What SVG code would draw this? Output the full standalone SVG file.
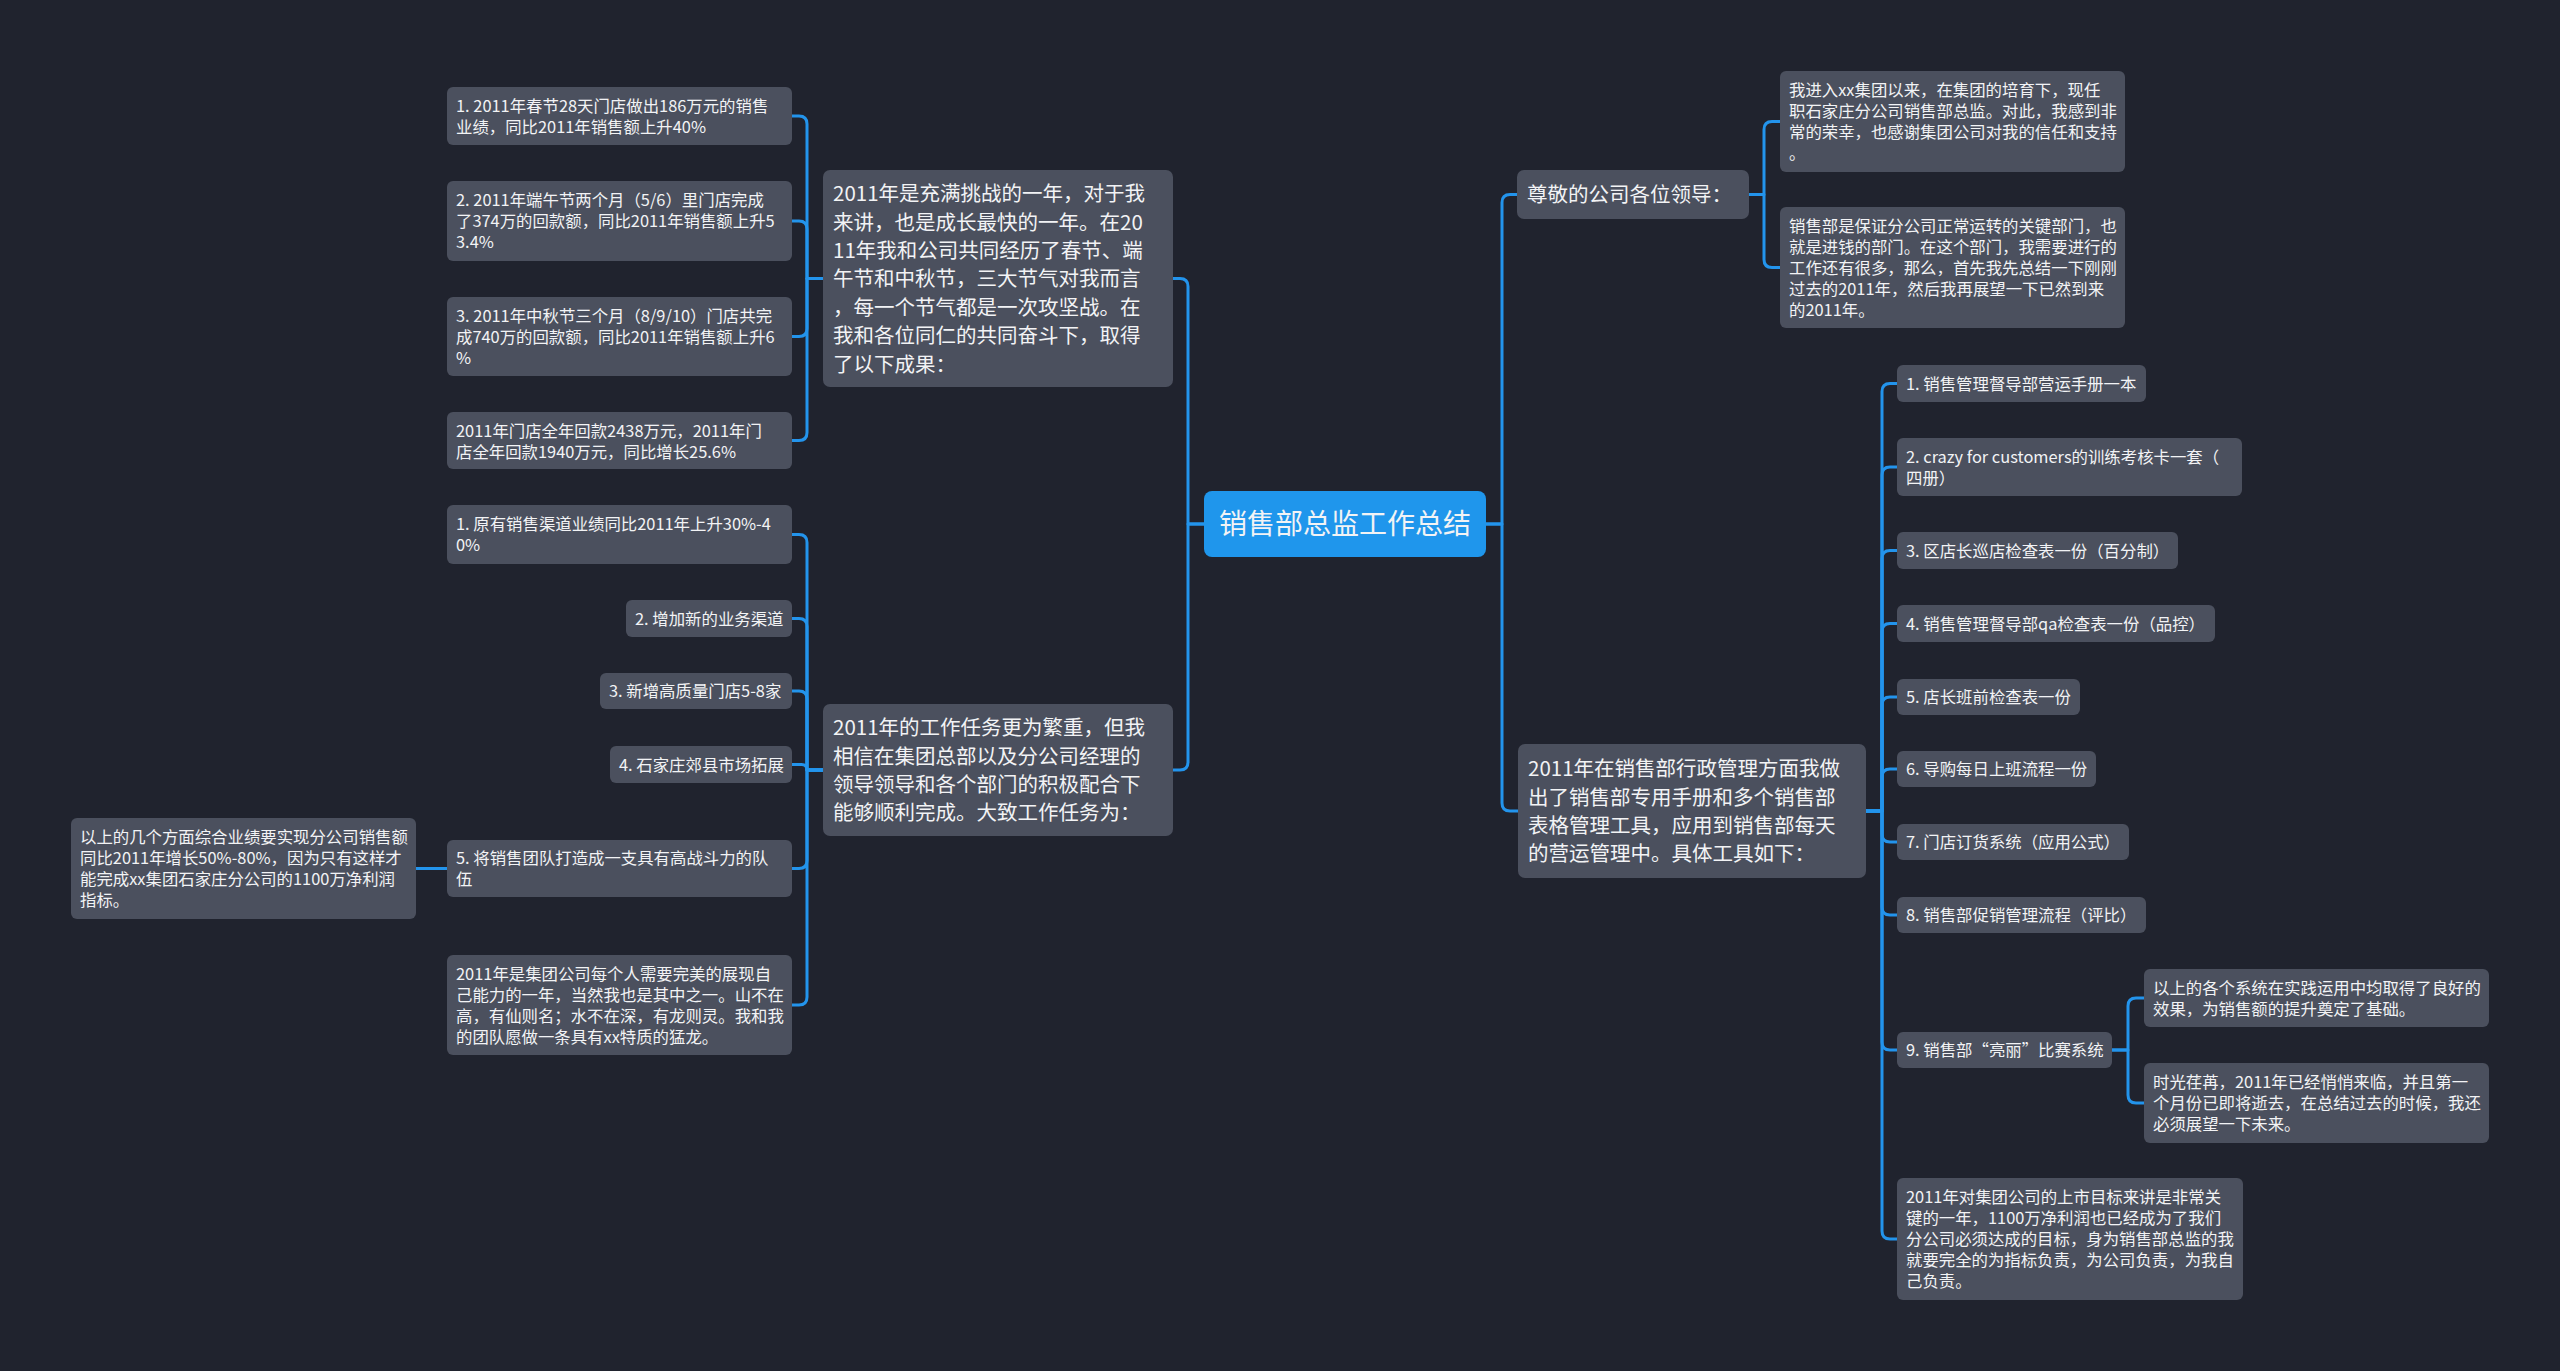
<svg xmlns="http://www.w3.org/2000/svg" width="2560" height="1371" viewBox="0 0 2560 1371">
<style>
.bg{fill:#20232e}
.n{fill:#4b505e}
.root{fill:#1f96ec}
.t{font-family:"Noto Sans CJK SC","Microsoft YaHei","Liberation Sans",sans-serif;fill:#f2f3f5}
.s{font-size:16.4px}
.m{font-size:20.5px}
.r{font-size:28px}
.c{fill:none;stroke:#2394ec;stroke-width:3;stroke-linecap:round;stroke-linejoin:round}
</style>
<rect class="bg" x="0" y="0" width="2560" height="1371"/>
<g id="connectors">
<path class="c" d="M1204,524 H1188 V286.5 Q1188,278.5 1180,278.5 H1173"/>
<path class="c" d="M1204,524 H1188 V762 Q1188,770 1180,770 H1173"/>
<path class="c" d="M1486,524 H1502 V202.5 Q1502,194.5 1510,194.5 H1517"/>
<path class="c" d="M1486,524 H1502 V803 Q1502,811 1510,811 H1518"/>
<path class="c" d="M823,278.5 H807 V124 Q807,116 799,116 H792"/>
<path class="c" d="M823,278.5 H807 V229 Q807,221 799,221 H792"/>
<path class="c" d="M823,278.5 H807 V328.5 Q807,336.5 799,336.5 H792"/>
<path class="c" d="M823,278.5 H807 V432.5 Q807,440.5 799,440.5 H792"/>
<path class="c" d="M823,770 H807 V542.5 Q807,534.5 799,534.5 H792"/>
<path class="c" d="M823,770 H807 V626.5 Q807,618.5 799,618.5 H792"/>
<path class="c" d="M823,770 H807 V699 Q807,691 799,691 H792"/>
<path class="c" d="M823,770 H807 Q807,764.5 801.5,764.5 H792"/>
<path class="c" d="M823,770 H807 V860.5 Q807,868.5 799,868.5 H792"/>
<path class="c" d="M823,770 H807 V997 Q807,1005 799,1005 H792"/>
<path class="c" d="M447,868.5 H416"/>
<path class="c" d="M1749,194.5 H1764 V129.5 Q1764,121.5 1772,121.5 H1780"/>
<path class="c" d="M1749,194.5 H1764 V259.5 Q1764,267.5 1772,267.5 H1780"/>
<path class="c" d="M1866,811 H1882 V391.5 Q1882,383.5 1890,383.5 H1897"/>
<path class="c" d="M1866,811 H1882 V475 Q1882,467 1890,467 H1897"/>
<path class="c" d="M1866,811 H1882 V558.5 Q1882,550.5 1890,550.5 H1897"/>
<path class="c" d="M1866,811 H1882 V631.5 Q1882,623.5 1890,623.5 H1897"/>
<path class="c" d="M1866,811 H1882 V705 Q1882,697 1890,697 H1897"/>
<path class="c" d="M1866,811 H1882 V777 Q1882,769 1890,769 H1897"/>
<path class="c" d="M1866,811 H1882 V834 Q1882,842 1890,842 H1897"/>
<path class="c" d="M1866,811 H1882 V907 Q1882,915 1890,915 H1897"/>
<path class="c" d="M1866,811 H1882 V1042 Q1882,1050 1890,1050 H1897"/>
<path class="c" d="M1866,811 H1882 V1231 Q1882,1239 1890,1239 H1897"/>
<path class="c" d="M2112,1050 H2128 V1006 Q2128,998 2136,998 H2144"/>
<path class="c" d="M2112,1050 H2128 V1095 Q2128,1103 2136,1103 H2144"/>
</g>
<g id="root">
<rect class="root" x="1204" y="491" width="282" height="66" rx="8"/>
<text class="t r" x="1345" y="534" text-anchor="middle" fill="#ffffff">销售部总监工作总结</text>
</g>
<g id="L1">
<rect class="n" x="823" y="170" width="350" height="217" rx="7"/>
<text class="t m"><tspan x="833" y="201.1">2011年是充满挑战的一年，对于我</tspan><tspan x="833" y="229.5">来讲，也是成长最快的一年。在20</tspan><tspan x="833" y="257.9">11年我和公司共同经历了春节、端</tspan><tspan x="833" y="286.3">午节和中秋节，三大节气对我而言</tspan><tspan x="833" y="314.7">，每一个节气都是一次攻坚战。在</tspan><tspan x="833" y="343.1">我和各位同仁的共同奋斗下，取得</tspan><tspan x="833" y="371.5">了以下成果：</tspan></text>
</g>
<g id="c1">
<rect class="n" x="447" y="87" width="345" height="58" rx="6"/>
<text class="t s"><tspan x="456" y="111.5">1. 2011年春节28天门店做出186万元的销售</tspan><tspan x="456" y="132.5">业绩，同比2011年销售额上升40%</tspan></text>
</g>
<g id="c2">
<rect class="n" x="447" y="181" width="345" height="80" rx="6"/>
<text class="t s"><tspan x="456" y="206">2. 2011年端午节两个月（5/6）里门店完成</tspan><tspan x="456" y="227">了374万的回款额，同比2011年销售额上升5</tspan><tspan x="456" y="248">3.4%</tspan></text>
</g>
<g id="c3">
<rect class="n" x="447" y="297" width="345" height="79" rx="6"/>
<text class="t s"><tspan x="456" y="321.5">3. 2011年中秋节三个月（8/9/10）门店共完</tspan><tspan x="456" y="342.5">成740万的回款额，同比2011年销售额上升6</tspan><tspan x="456" y="363.5">%</tspan></text>
</g>
<g id="c4">
<rect class="n" x="447" y="412" width="345" height="57" rx="6"/>
<text class="t s"><tspan x="456" y="436.5">2011年门店全年回款2438万元，2011年门</tspan><tspan x="456" y="457.5">店全年回款1940万元，同比增长25.6%</tspan></text>
</g>
<g id="L2">
<rect class="n" x="823" y="704" width="350" height="132" rx="7"/>
<text class="t m"><tspan x="833" y="735.2">2011年的工作任务更为繁重，但我</tspan><tspan x="833" y="763.6">相信在集团总部以及分公司经理的</tspan><tspan x="833" y="792">领导领导和各个部门的积极配合下</tspan><tspan x="833" y="820.4">能够顺利完成。大致工作任务为：</tspan></text>
</g>
<g id="d1">
<rect class="n" x="447" y="505" width="345" height="59" rx="6"/>
<text class="t s"><tspan x="456" y="530">1. 原有销售渠道业绩同比2011年上升30%-4</tspan><tspan x="456" y="551">0%</tspan></text>
</g>
<g id="d2">
<rect class="n" x="626" y="600" width="166" height="37" rx="6"/>
<text class="t s" x="635" y="624.5">2. 增加新的业务渠道</text>
</g>
<g id="d3">
<rect class="n" x="600" y="673" width="192" height="36" rx="6"/>
<text class="t s" x="609" y="697">3. 新增高质量门店5-8家</text>
</g>
<g id="d4">
<rect class="n" x="610" y="746" width="182" height="37" rx="6"/>
<text class="t s" x="619" y="770.5">4. 石家庄郊县市场拓展</text>
</g>
<g id="d5">
<rect class="n" x="447" y="840" width="345" height="57" rx="6"/>
<text class="t s"><tspan x="456" y="864">5. 将销售团队打造成一支具有高战斗力的队</tspan><tspan x="456" y="885">伍</tspan></text>
</g>
<g id="d6">
<rect class="n" x="447" y="955" width="345" height="100" rx="6"/>
<text class="t s"><tspan x="456" y="979.5">2011年是集团公司每个人需要完美的展现自</tspan><tspan x="456" y="1000.5">己能力的一年，当然我也是其中之一。山不在</tspan><tspan x="456" y="1021.5">高，有仙则名；水不在深，有龙则灵。我和我</tspan><tspan x="456" y="1042.5">的团队愿做一条具有xx特质的猛龙。</tspan></text>
</g>
<g id="e1">
<rect class="n" x="71" y="818" width="345" height="101" rx="6"/>
<text class="t s"><tspan x="80" y="843">以上的几个方面综合业绩要实现分公司销售额</tspan><tspan x="80" y="864">同比2011年增长50%-80%，因为只有这样才</tspan><tspan x="80" y="885">能完成xx集团石家庄分公司的1100万净利润</tspan><tspan x="80" y="906">指标。</tspan></text>
</g>
<g id="R1">
<rect class="n" x="1517" y="170" width="232" height="49" rx="7"/>
<text class="t m" x="1527" y="202.3">尊敬的公司各位领导：</text>
</g>
<g id="f1">
<rect class="n" x="1780" y="71" width="345" height="101" rx="6"/>
<text class="t s"><tspan x="1789" y="96">我进入xx集团以来，在集团的培育下，现任</tspan><tspan x="1789" y="117">职石家庄分公司销售部总监。对此，我感到非</tspan><tspan x="1789" y="138">常的荣幸，也感谢集团公司对我的信任和支持</tspan><tspan x="1789" y="159">。</tspan></text>
</g>
<g id="f2">
<rect class="n" x="1780" y="207" width="345" height="121" rx="6"/>
<text class="t s"><tspan x="1789" y="231.5">销售部是保证分公司正常运转的关键部门，也</tspan><tspan x="1789" y="252.5">就是进钱的部门。在这个部门，我需要进行的</tspan><tspan x="1789" y="273.5">工作还有很多，那么，首先我先总结一下刚刚</tspan><tspan x="1789" y="294.5">过去的2011年，然后我再展望一下已然到来</tspan><tspan x="1789" y="315.5">的2011年。</tspan></text>
</g>
<g id="R2">
<rect class="n" x="1518" y="744" width="348" height="134" rx="7"/>
<text class="t m"><tspan x="1528" y="776.2">2011年在销售部行政管理方面我做</tspan><tspan x="1528" y="804.6">出了销售部专用手册和多个销售部</tspan><tspan x="1528" y="833">表格管理工具，应用到销售部每天</tspan><tspan x="1528" y="861.4">的营运管理中。具体工具如下：</tspan></text>
</g>
<g id="g1">
<rect class="n" x="1897" y="365" width="249" height="37" rx="6"/>
<text class="t s" x="1906" y="389.5">1. 销售管理督导部营运手册一本</text>
</g>
<g id="g2">
<rect class="n" x="1897" y="438" width="345" height="58" rx="6"/>
<text class="t s"><tspan x="1906" y="462.5">2. crazy for customers的训练考核卡一套（</tspan><tspan x="1906" y="483.5">四册）</tspan></text>
</g>
<g id="g3">
<rect class="n" x="1897" y="532" width="281" height="37" rx="6"/>
<text class="t s" x="1906" y="556.5">3. 区店长巡店检查表一份（百分制）</text>
</g>
<g id="g4">
<rect class="n" x="1897" y="605" width="318" height="37" rx="6"/>
<text class="t s" x="1906" y="629.5">4. 销售管理督导部qa检查表一份（品控）</text>
</g>
<g id="g5">
<rect class="n" x="1897" y="679" width="183" height="36" rx="6"/>
<text class="t s" x="1906" y="703">5. 店长班前检查表一份</text>
</g>
<g id="g6">
<rect class="n" x="1897" y="751" width="199" height="36" rx="6"/>
<text class="t s" x="1906" y="775">6. 导购每日上班流程一份</text>
</g>
<g id="g7">
<rect class="n" x="1897" y="824" width="232" height="36" rx="6"/>
<text class="t s" x="1906" y="848">7. 门店订货系统（应用公式）</text>
</g>
<g id="g8">
<rect class="n" x="1897" y="897" width="249" height="36" rx="6"/>
<text class="t s" x="1906" y="921">8. 销售部促销管理流程（评比）</text>
</g>
<g id="g9">
<rect class="n" x="1897" y="1032" width="215" height="36" rx="6"/>
<text class="t s" x="1906" y="1056">9. 销售部“亮丽”比赛系统</text>
</g>
<g id="h1">
<rect class="n" x="2144" y="969" width="345" height="58" rx="6"/>
<text class="t s"><tspan x="2153" y="993.5">以上的各个系统在实践运用中均取得了良好的</tspan><tspan x="2153" y="1014.5">效果，为销售额的提升奠定了基础。</tspan></text>
</g>
<g id="h2">
<rect class="n" x="2144" y="1063" width="345" height="80" rx="6"/>
<text class="t s"><tspan x="2153" y="1088">时光荏苒，2011年已经悄悄来临，并且第一</tspan><tspan x="2153" y="1109">个月份已即将逝去，在总结过去的时候，我还</tspan><tspan x="2153" y="1130">必须展望一下未来。</tspan></text>
</g>
<g id="g10">
<rect class="n" x="1897" y="1178" width="346" height="122" rx="6"/>
<text class="t s"><tspan x="1906" y="1203">2011年对集团公司的上市目标来讲是非常关</tspan><tspan x="1906" y="1224">键的一年，1100万净利润也已经成为了我们</tspan><tspan x="1906" y="1245">分公司必须达成的目标，身为销售部总监的我</tspan><tspan x="1906" y="1266">就要完全的为指标负责，为公司负责，为我自</tspan><tspan x="1906" y="1287">己负责。</tspan></text>
</g>
</svg>
